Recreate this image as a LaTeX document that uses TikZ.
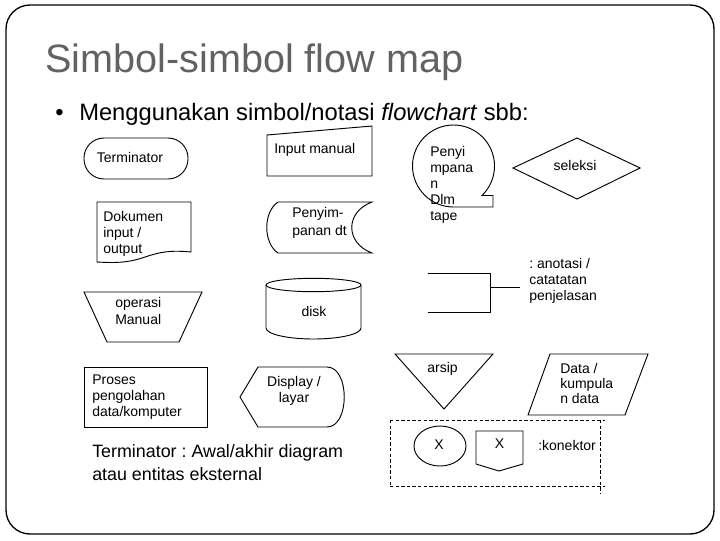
\documentclass[tikz,border=0pt]{standalone}
\usepackage{fontspec}
\setmainfont{Liberation Sans}
\frenchspacing
\definecolor{titlegray}{RGB}{98,98,98}
\begin{document}
\begin{tikzpicture}[x=0.75pt,y=-0.75pt,
  shp/.style={draw=black, line width=0.7pt},
  dsh/.style={draw=black, line width=0.7pt, dash pattern=on 2.6pt off 1.6pt},
  lbl/.style={inner sep=0pt, font=\fontsize{10.5}{12}\selectfont, align=left}]
\useasboundingbox (0,0) rectangle (720,540);
% frame
\draw[line width=1pt, rounded corners=18pt] (6,5) rectangle (714,534);
% title and bullet
\node[anchor=base west, inner sep=0pt, text=titlegray, font=\fontsize{29.7}{34}\selectfont] (title) at (45,72) {Simbol-simbol flow map};
\node[anchor=base, inner sep=0pt, font=\fontsize{17.8}{20}\selectfont] (bullet) at (59.5,120) {•};
\node[anchor=base west, inner sep=0pt, font=\fontsize{17.8}{20}\selectfont] (sub) at (79,120) {Menggunakan simbol/notasi \textit{flowchart} sbb:};
% terminator
\draw[shp, rounded corners=15pt] (84,138) rectangle (188,179);
\node[lbl, anchor=base] (tTerm) at (130,162) {Terminator};
% input manual
\draw[shp] (267,135) -- (372,126) -- (372,176) -- (267,176) -- cycle;
\node[lbl, anchor=base west] (tInput) at (274,153) {Input manual};
% document
\draw[shp] (97,202) -- (191,202) -- (191,252) .. controls (170,250) and (160,252) .. (145,257) .. controls (128,263) and (115,263) .. (97,262) -- cycle;
\node[lbl, anchor=base west] (tDok) at (103,253) {Dokumen\\input /\\output};
% stored data
\draw[shp] (278,202) -- (372,202) .. controls (345,212) and (345,243) .. (372,253) -- (278,253) .. controls (263,243) and (263,212) .. (278,202) -- cycle;
\node[lbl, anchor=base west] (tPen) at (292,235) {Penyim-\\[1.5pt]panan dt};
% tape
\draw[shp] (453.5,207) arc[start angle=90, end angle=406, radius=41] -- (493,195.5) -- (493,207) -- cycle;
\node[lbl, anchor=base west] (tTape) at (430,220) {Penyi\\mpana\\n\\Dlm\\tape};
% decision
\draw[shp] (513,168) -- (577,138) -- (640,168) -- (577,199) -- cycle;
\node[lbl, anchor=base] (tSel) at (575,170) {seleksi};
% annotation
\draw[shp] (428,273) -- (490,273) -- (490,313);
\draw[shp] (428,312) -- (490,312);
\draw[shp] (490,287) -- (520,287);
\node[lbl, anchor=base west] (tAnn) at (529,300) {: anotasi /\\catatatan\\penjelasan};
% manual operation
\draw[shp] (84,292) -- (202,292) -- (179,342) -- (107,342) -- cycle;
\node[lbl, anchor=base west] (tOp) at (115,324) {operasi\\[0.75pt]Manual};
% disk
\draw[shp] (313.5,285) ellipse [x radius=47.5, y radius=6.7];
\draw[shp] (266,285) -- (266,328) arc[start angle=180, end angle=0, x radius=47.5, y radius=11] -- (361,285);
\node[lbl, anchor=base] (tDisk) at (314,316) {disk};
% process
\draw[shp] (84,367) rectangle (207,427);
\node[lbl, anchor=base west] (tPro) at (92,416.5) {Proses\\pengolahan\\data/komputer};
% display
\draw[shp] (240,397) -- (258,367) -- (327,367) .. controls (350,367) and (350,427) .. (327,427) -- (258,427) -- cycle;
\node[lbl, anchor=base, align=center] (tDisp) at (294,402) {Display /\\layar};
% description
\node[anchor=base west, inner sep=0pt, align=left, font=\fontsize{13.4}{16.9}\selectfont] (tDesc) at (92,480.5) {Terminator : Awal/akhir diagram\\atau entitas eksternal};
% archive
\draw[shp] (395,354) -- (493,354) -- (444,409) -- cycle;
\node[lbl, anchor=base] (tArs) at (442.5,372) {arsip};
% data
\draw[shp] (550,354) -- (648,354) -- (625,415) -- (528,415) -- cycle;
\node[lbl, anchor=base west, font=\fontsize{10.5}{11.25}\selectfont] (tData) at (560,403) {Data /\\kumpula\\n data};
% connector box
\draw[dsh] (390,420) -- (605,420);
\draw[dsh] (390,486) -- (605,486);
\draw[dsh] (390,420) -- (390,486);
\draw[dsh] (600,420) -- (600,493);
\draw[shp] (440,446) ellipse [x radius=26, y radius=20];
\node[lbl] (tX1) at (439,445) {X};
\draw[shp] (476,431) -- (523,431) -- (523,464) -- (499,471) -- (476,464) -- cycle;
\node[lbl] (tX2) at (499.5,443.5) {X};
\node[lbl, anchor=west] (tKon) at (538,445) {:konektor};
\end{tikzpicture}
\end{document}
